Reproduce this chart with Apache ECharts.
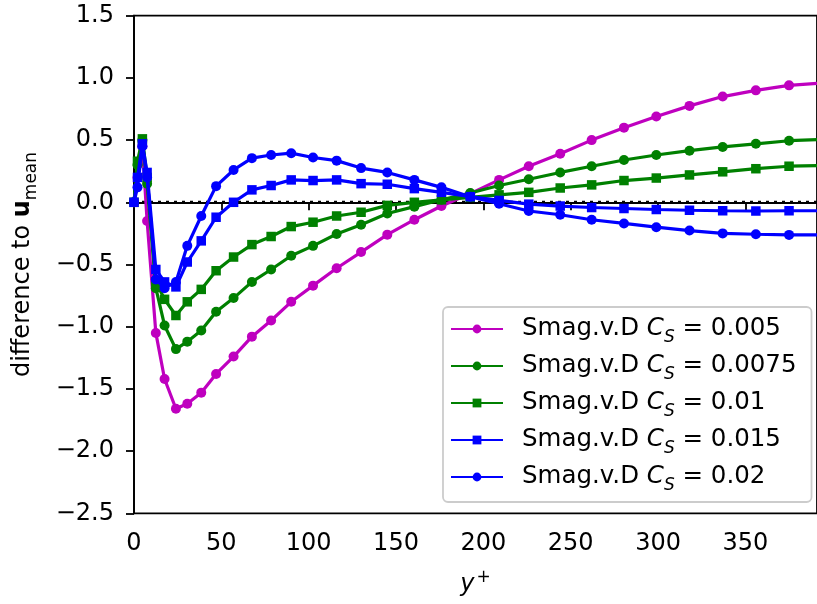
<!DOCTYPE html>
<html>
<head>
<meta charset="utf-8">
<script src="https://cdn.jsdelivr.net/npm/echarts@6/dist/echarts.min.js"></script>
<style>
  html, body { margin: 0; padding: 0; background: #fff; }
  #chart { width: 817px; height: 604px; }
</style>
</head>
<body>
<div id="chart"></div>
<script>
// y+ positions (shared grid)
const yPlus = [0, 2, 4.8, 7.5, 12.5, 17.5, 24, 30.5, 38.5, 47, 57, 67.5, 78.5, 90, 102.5, 116, 130, 145, 160.5, 176, 192.5, 209, 226, 244, 262, 280.5, 299, 318, 337, 356, 375, 394.5];

const cs005 = [0, 0.2, 0.45, -0.15, -1.05, -1.42, -1.66, -1.62, -1.53, -1.38, -1.24, -1.08, -0.95, -0.80, -0.67, -0.53, -0.40, -0.26, -0.14, -0.03, 0.07, 0.18, 0.29, 0.39, 0.50, 0.60, 0.69, 0.775, 0.85, 0.90, 0.94, 0.96];
const cs0075 = [0, 0.3, 0.5, 0.15, -0.69, -0.99, -1.18, -1.12, -1.03, -0.88, -0.77, -0.64, -0.54, -0.43, -0.35, -0.255, -0.18, -0.09, -0.035, 0.02, 0.075, 0.135, 0.185, 0.24, 0.29, 0.34, 0.38, 0.415, 0.445, 0.47, 0.495, 0.505];
const cs01 = [0, 0.33, 0.51, 0.2, -0.64, -0.78, -0.91, -0.80, -0.70, -0.55, -0.44, -0.34, -0.275, -0.195, -0.16, -0.11, -0.08, -0.025, 0.0, 0.02, 0.04, 0.06, 0.08, 0.115, 0.14, 0.175, 0.195, 0.22, 0.245, 0.27, 0.29, 0.295];
const cs015 = [0, 0.2, 0.47, 0.24, -0.54, -0.64, -0.68, -0.48, -0.31, -0.12, 0.0, 0.10, 0.135, 0.18, 0.175, 0.18, 0.15, 0.145, 0.11, 0.08, 0.045, 0.015, -0.015, -0.03, -0.042, -0.05, -0.058, -0.064, -0.068, -0.07, -0.068, -0.068];
const cs02 = [0, 0.12, 0.45, 0.2, -0.62, -0.69, -0.64, -0.35, -0.11, 0.13, 0.26, 0.355, 0.38, 0.395, 0.36, 0.335, 0.275, 0.24, 0.18, 0.12, 0.045, -0.012, -0.07, -0.1, -0.14, -0.17, -0.2, -0.227, -0.25, -0.257, -0.262, -0.262];

const seriesNames = ['Smag.v.D C_S = 0.005', 'Smag.v.D C_S = 0.0075', 'Smag.v.D C_S = 0.01', 'Smag.v.D C_S = 0.015', 'Smag.v.D C_S = 0.02'];
const seriesColors = ['#bf00bf', '#008000', '#008000', '#0000ff', '#0000ff'];
const seriesSymbols = ['circle', 'circle', 'rect', 'rect', 'circle'];
const seriesValues = [cs005, cs0075, cs01, cs015, cs02];

const xTicks = [0, 50, 100, 150, 200, 250, 300, 350];
const yTicks = [-2.5, -2.0, -1.5, -1.0, -0.5, 0.0, 0.5, 1.0, 1.5];

const FONT = 'DejaVu Sans';
const FS = 24;
const LFS = 24.5;
const chart = echarts.init(document.getElementById('chart'), null, { renderer: 'canvas' });

const series = [{
  name: 'zero',
  type: 'line',
  data: [[xTicks[0], 0], [yPlus[yPlus.length - 1], 0]],
  symbol: 'none',
  lineStyle: { color: '#000', width: 3, type: [3, 5] },
  silent: true,
  z: 1
}];
seriesNames.forEach((nm, i) => {
  series.push({
    name: nm,
    type: 'line',
    data: yPlus.map((x, j) => [x, seriesValues[i][j]]),
    symbol: seriesSymbols[i],
    symbolSize: seriesSymbols[i] === 'rect' ? 9.5 : 10,
    showAllSymbol: true,
    lineStyle: { color: seriesColors[i], width: 3.2 },
    itemStyle: { color: seriesColors[i] },
    clip: true,
    z: 2 + i
  });
});

const richBase = { fontFamily: FONT, color: '#000' };

chart.setOption({
  animation: false,
  backgroundColor: '#fff',
  grid: {
    left: 133.3, top: 15.7, right: 0, bottom: 90.7,
    show: true, borderColor: '#000', borderWidth: 1.8, backgroundColor: 'transparent'
  },
  xAxis: {
    type: 'value', min: 0, max: 391, interval: 50,
    name: '{i|y}{p|+}',
    nameLocation: 'middle', nameGap: 56,
    nameTextStyle: {
      rich: {
        i: Object.assign({}, richBase, { fontSize: FS, fontStyle: 'italic', lineHeight: 30 }),
        p: Object.assign({}, richBase, { fontSize: 17, lineHeight: 30, verticalAlign: 'top', padding: [0, 0, 0, 2] })
      }
    },
    axisLine: { lineStyle: { color: '#000', width: 1.8 } },
    axisTick: { length: 8, lineStyle: { color: '#000', width: 1.8 } },
    axisLabel: { margin: 18, fontFamily: FONT, fontSize: FS, color: '#000', showMaxLabel: false },
    splitLine: { show: false }
  },
  yAxis: {
    type: 'value', min: -2.5, max: 1.5, interval: 0.5,
    name: '{n|difference to }{b|u}{s|mean}',
    nameLocation: 'middle', nameGap: 96, nameRotate: 90,
    nameTextStyle: {
      rich: {
        n: Object.assign({}, richBase, { fontSize: FS, lineHeight: 30 }),
        b: Object.assign({}, richBase, { fontSize: FS, fontWeight: 'bold', lineHeight: 30 }),
        s: Object.assign({}, richBase, { fontSize: 17, lineHeight: 30, verticalAlign: 'top', padding: [15, 0, 0, 0] })
      }
    },
    axisLine: { lineStyle: { color: '#000', width: 1.8 } },
    axisTick: { length: 8, lineStyle: { color: '#000', width: 1.8 } },
    axisLabel: {
      margin: 20, fontFamily: FONT, fontSize: FS, color: '#000',
      formatter: v => (v < 0 ? '\u2212' : '') + Math.abs(v).toFixed(1)
    },
    splitLine: { show: false }
  },
  legend: {
    data: seriesNames,
    orient: 'vertical',
    left: 443, top: 307,
    padding: [7, 15, 8, 7],
    itemWidth: 52, itemHeight: 11, itemGap: 5,
    backgroundColor: 'rgba(255,255,255,0.8)',
    borderColor: '#cccccc', borderWidth: 1.8, borderRadius: 5,
    selectedMode: false,
    formatter: name => {
      const parts = name.split('C_S');
      return '{g|}{n|' + parts[0] + '}{i|C}{s|S}{n|' + parts[1] + '}';
    },
    textStyle: {
      rich: {
        g: { width: 14 },
        n: Object.assign({}, richBase, { fontSize: LFS, lineHeight: 30 }),
        i: Object.assign({}, richBase, { fontSize: LFS, fontStyle: 'italic', lineHeight: 30 }),
        s: Object.assign({}, richBase, { fontSize: 17, fontStyle: 'italic', lineHeight: 30, verticalAlign: 'top', padding: [15, 0, 0, 0] })
      }
    }
  },
  series: series
});
</script>
</body>
</html>
